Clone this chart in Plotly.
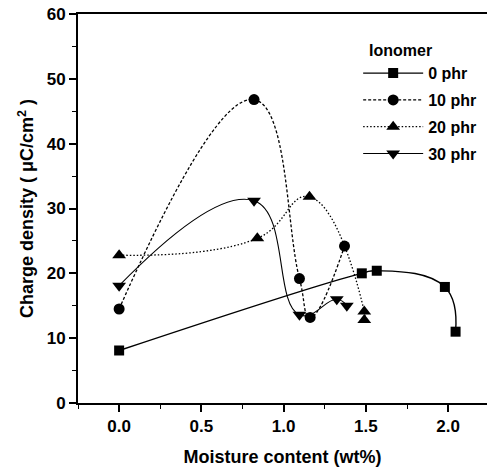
import plotly.graph_objects as go

# Data
x_0phr = [0.0, 1.475, 1.566, 1.98, 2.045]
y_0phr = [8.1, 20.0, 20.4, 17.9, 11.0]

x_10phr = [0.0, 0.82, 1.096, 1.161, 1.37]
y_10phr = [14.5, 46.8, 19.2, 13.2, 24.2]

x_20phr = [0.0, 0.84, 1.157, 1.49, 1.49]
y_20phr = [22.8, 25.4, 31.8, 14.1, 12.8]

x_30phr = [0.0, 0.82, 1.096, 1.323, 1.384]
y_30phr = [18.1, 31.2, 13.6, 16.0, 15.0]

names = ["0 phr", "10 phr", "20 phr", "30 phr"]

FONT = "Liberation Sans, Arial, sans-serif"

fig = go.Figure()

series = [
    (x_0phr, y_0phr, "solid", "square", 10, 1.4),
    (x_10phr, y_10phr, "3px,2px", "circle", 11, 1.3),
    (x_20phr, y_20phr, "1.5px,2px", "triangle-up", 12, 1.3),
    (x_30phr, y_30phr, "solid", "triangle-down", 12, 1.1),
]

for i, (xs, ys, dash, sym, size, lw) in enumerate(series):
    fig.add_trace(go.Scatter(
        x=xs, y=ys, name=names[i], mode="lines+markers",
        line=dict(color="black", width=lw, dash=dash, shape="spline", smoothing=1.3),
        marker=dict(symbol=sym, size=size, color="black"),
        legendgroup=f"g{i}",
    ))

tickfont = dict(family=FONT, size=17, color="black", weight="bold")
titlefont = dict(family=FONT, size=18, color="black", weight="bold")

axis_common = dict(
    showgrid=False, zeroline=False, showline=True, linecolor="black", linewidth=2,
    ticks="outside", ticklen=7, tickwidth=1.5, tickcolor="black",
    tickfont=tickfont,
)

fig.update_xaxes(
    range=[-0.25, 2.236], tick0=0, dtick=0.5, mirror=True,
    minor=dict(ticks="outside", ticklen=4, dtick=0.25, tick0=0, tickcolor="black", tickwidth=1.2),
    title=dict(text="Moisture content (wt%)", font=titlefont, standoff=15),
    tickformat=".1f",
    **axis_common,
)
fig.update_yaxes(
    range=[0, 60], tick0=0, dtick=10,
    minor=dict(ticks="outside", ticklen=4, dtick=5, tick0=0, tickcolor="black", tickwidth=1.2),
    title=dict(text="Charge density ( \u03bcC/cm<sup>2</sup> )", font=titlefont, standoff=8),
    **axis_common,
)

fig.update_layout(
    width=487, height=471,
    margin=dict(l=78, r=0, t=14, b=68),
    paper_bgcolor="white", plot_bgcolor="white",
    font=dict(family=FONT, size=16, color="black"),
    showlegend=True,
    legend=dict(
        x=0.685, y=0.945, xanchor="left", yanchor="top",
        title=dict(text="  Ionomer", font=dict(family=FONT, size=16, color="black", weight="bold")),
        font=dict(family=FONT, size=16, color="black", weight="bold"),
        bgcolor="rgba(0,0,0,0)", tracegroupgap=3, itemwidth=60,
    ),
)

fig.write_html("out.html")
